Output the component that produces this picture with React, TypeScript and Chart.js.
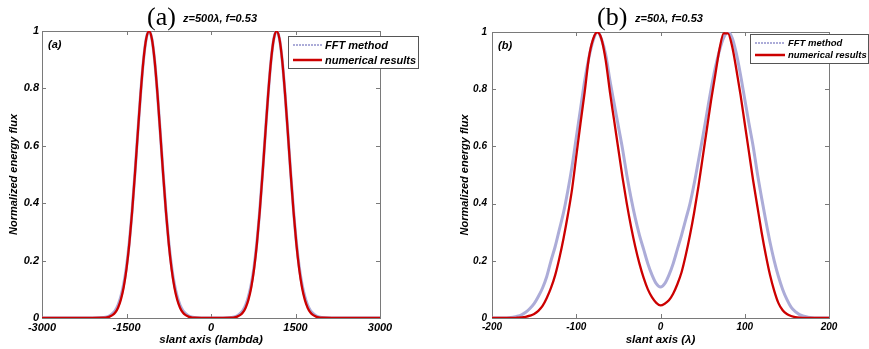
import React, { useEffect, useRef } from "react";
import { Chart, registerables } from "chart.js";

Chart.register(...registerables);

// ---------- Panel (a): z = 500 lambda ----------
const panelAX = [
  -3000, -2400,
  -1900, -1850, -1800, -1750, -1700, -1650, -1600, -1550, -1500, -1450, -1400,
  -1350, -1300, -1250, -1200, -1150, -1100, -1050, -1000, -950, -900, -850,
  -800, -750, -700, -650, -600, -550, -500, -450, -400, -350, -300,
  0,
  365, 415, 465, 515, 565, 615, 665, 715, 765, 815, 865, 915, 965, 1015, 1065,
  1115, 1165, 1215, 1265, 1315, 1365, 1415, 1465, 1515, 1565, 1615, 1665, 1715,
  1765, 1815, 1865, 1915, 1965,
  2400, 3000,
];
const panelAFFT = [
  0, 0,
  0.002, 0.004, 0.008, 0.015, 0.026, 0.045, 0.075, 0.118, 0.18, 0.265, 0.375,
  0.505, 0.645, 0.78, 0.896, 0.973, 1, 0.973, 0.896, 0.78, 0.645, 0.505,
  0.375, 0.265, 0.18, 0.118, 0.075, 0.045, 0.026, 0.015, 0.008, 0.004, 0.002,
  0,
  0.002, 0.004, 0.008, 0.015, 0.026, 0.045, 0.075, 0.118, 0.18, 0.265, 0.375,
  0.505, 0.645, 0.78, 0.896, 0.973, 1, 0.973, 0.896, 0.78, 0.645, 0.505,
  0.375, 0.265, 0.18, 0.118, 0.075, 0.045, 0.026, 0.015, 0.008, 0.004, 0.002,
  0, 0,
];
const panelANumerical = [
  0, 0,
  0.001, 0.002, 0.005, 0.01, 0.019, 0.036, 0.064, 0.107, 0.171, 0.259, 0.371,
  0.502, 0.643, 0.78, 0.896, 0.973, 1, 0.973, 0.896, 0.78, 0.643, 0.502,
  0.371, 0.259, 0.171, 0.107, 0.064, 0.036, 0.019, 0.01, 0.005, 0.002, 0.001,
  0,
  0.001, 0.002, 0.005, 0.01, 0.019, 0.036, 0.064, 0.107, 0.171, 0.259, 0.371,
  0.502, 0.643, 0.78, 0.896, 0.973, 1, 0.973, 0.896, 0.78, 0.643, 0.502,
  0.371, 0.259, 0.171, 0.107, 0.064, 0.036, 0.019, 0.01, 0.005, 0.002, 0.001,
  0, 0,
];
const panelATicks = [-3000, -1500, 0, 1500, 3000];

// ---------- Panel (b): z = 50 lambda ----------
const panelBX = [
  -200, -195, -190, -185, -180, -175, -170, -165, -160, -155, -150, -145, -140,
  -135, -130, -125, -120, -115, -110, -105, -100, -95, -90, -85, -80, -75, -70,
  -65, -60, -55, -50, -45, -40, -35, -30, -25, -20, -15, -10, -5, 0, 5, 10, 15,
  20, 25, 30, 35, 40, 45, 50, 55, 60, 65, 70, 75, 80, 85, 90, 95, 100, 105, 110,
  115, 120, 125, 130, 135, 140, 145, 150, 155, 160, 165, 170, 175, 180, 185,
  190, 195, 200,
];
const panelBFFT = [
  0, 0, 0, 0, 0.001, 0.003, 0.006, 0.011, 0.02, 0.033, 0.05, 0.075, 0.105,
  0.145, 0.2, 0.25, 0.31, 0.37, 0.445, 0.53, 0.63, 0.73, 0.83, 0.91, 0.97, 1, 0.975,
  0.92, 0.83, 0.75, 0.67, 0.59, 0.5, 0.42, 0.35, 0.29, 0.24, 0.19, 0.15, 0.12, 0.108, 0.12, 0.15, 0.19,
  0.24, 0.29, 0.345, 0.4, 0.47, 0.55, 0.63, 0.715, 0.8, 0.875, 0.935, 0.98, 1, 0.98, 0.925, 0.85, 0.765, 0.68, 0.6,
  0.505, 0.42, 0.34, 0.265, 0.2, 0.145, 0.1, 0.065, 0.038, 0.022, 0.012, 0.006, 0.003, 0.001, 0,
  0, 0, 0,
];
const panelBNumerical = [
  0, 0, 0, 0, 0, 0, 0.001, 0.002, 0.004, 0.008, 0.014, 0.025, 0.042,
  0.07, 0.105, 0.15, 0.21, 0.28, 0.36, 0.45, 0.565, 0.68, 0.79, 0.91, 0.975, 1, 0.975,
  0.9, 0.79, 0.69, 0.59, 0.49, 0.4, 0.32, 0.25, 0.19, 0.14, 0.1, 0.072, 0.053, 0.044, 0.05, 0.062, 0.085,
  0.118, 0.16, 0.22, 0.29, 0.37, 0.46, 0.56, 0.66, 0.76, 0.85, 0.94, 0.995, 0.995, 0.95, 0.87, 0.78, 0.68, 0.58, 0.48,
  0.39, 0.3, 0.22, 0.15, 0.095, 0.052, 0.027, 0.014, 0.007, 0.003, 0.001, 0, 0, 0, 0,
  0, 0, 0,
];
const panelBTicks = [-200, -100, 0, 100, 200];

const yTicks = [0, 0.2, 0.4, 0.6, 0.8, 1];
const seriesLabels = ["FFT method", "numerical results"];

const SANS = "'Liberation Sans', Arial, sans-serif";
const SERIF = "'Liberation Serif', 'Times New Roman', serif";
const FFT_COLOR = "rgba(172,172,216,1)";
const NUM_COLOR = "#cc0000";
const BOX_COLOR = "#7a7a7a";

type PanelProps = {
  left: number;
  width: number;
  xs: number[];
  fft: number[];
  num: number[];
  xTicks: number[];
  xTitle: string;
  area: { left: number; top: number; right: number; bottom: number };
  tickSize: number;
  yTickPad: number;
  yTitleX: number;
  letter: string;
  heading: string;
  headingX: number;
  subtitle: string;
  subtitleX: number;
  legend: { x: number; y: number; w: number; h: number; font: number; row1: number; row2: number; lineX: number; lineW: number; textX: number };
};

function Panel(p: PanelProps) {
  const ref = useRef<HTMLCanvasElement | null>(null);
  useEffect(() => {
    if (!ref.current) return;
    const height = 349;
    const xMin = p.xTicks[0];
    const xMax = p.xTicks[p.xTicks.length - 1];
    const xStep = p.xTicks[1] - p.xTicks[0];
    const deco = {
      id: "deco" + p.letter,
      beforeDatasetsDraw(chart: any) {
        const { ctx, chartArea: a, scales } = chart;
        ctx.save();
        ctx.strokeStyle = BOX_COLOR;
        ctx.lineWidth = 1;
        ctx.strokeRect(Math.round(a.left) + 0.5, Math.round(a.top) + 0.5, Math.round(a.right - a.left), Math.round(a.bottom - a.top));
        ctx.beginPath();
        const L = 4;
        p.xTicks.slice(1, -1).forEach((v) => {
          const px = Math.round(scales.x.getPixelForValue(v)) + 0.5;
          ctx.moveTo(px, a.bottom);
          ctx.lineTo(px, a.bottom - L);
          ctx.moveTo(px, a.top);
          ctx.lineTo(px, a.top + L);
        });
        yTicks.slice(1, -1).forEach((v) => {
          const py = Math.round(scales.y.getPixelForValue(v)) + 0.5;
          ctx.moveTo(a.left, py);
          ctx.lineTo(a.left + L, py);
          ctx.moveTo(a.right, py);
          ctx.lineTo(a.right - L, py);
        });
        ctx.stroke();
        ctx.restore();
      },
      afterDraw(chart: any) {
        const { ctx, chartArea: a } = chart;
        ctx.save();
        ctx.fillStyle = "#000";
        ctx.font = `italic bold 11px ${SANS}`;
        ctx.textAlign = "left";
        ctx.textBaseline = "alphabetic";
        ctx.fillText(p.letter, a.left + 6, a.top + 17);
        ctx.font = `26px ${SERIF}`;
        ctx.fillText(p.heading, p.headingX, 25);
        ctx.font = `italic bold 11px ${SANS}`;
        ctx.fillText(p.subtitle, p.subtitleX, 22);
        const lg = p.legend;
        ctx.fillStyle = "#fff";
        ctx.fillRect(lg.x, lg.y, lg.w, lg.h);
        ctx.strokeStyle = "#555";
        ctx.lineWidth = 1;
        ctx.strokeRect(lg.x + 0.5, lg.y + 0.5, lg.w, lg.h);
        ctx.beginPath();
        ctx.strokeStyle = FFT_COLOR;
        ctx.lineWidth = 2;
        ctx.setLineDash([2, 1]);
        ctx.moveTo(lg.lineX, lg.row1);
        ctx.lineTo(lg.lineX + lg.lineW, lg.row1);
        ctx.stroke();
        ctx.setLineDash([]);
        ctx.beginPath();
        ctx.strokeStyle = NUM_COLOR;
        ctx.lineWidth = 2.5;
        ctx.moveTo(lg.lineX, lg.row2);
        ctx.lineTo(lg.lineX + lg.lineW, lg.row2);
        ctx.stroke();
        ctx.fillStyle = "#000";
        ctx.font = `italic bold ${lg.font}px ${SANS}`;
        ctx.textBaseline = "middle";
        ctx.fillText(seriesLabels[0], lg.textX, lg.row1 + 0.5);
        ctx.fillText(seriesLabels[1], lg.textX, lg.row2 + 0.5);
        ctx.restore();
      },
    };
    const chart = new Chart(ref.current, {
      type: "line",
      data: {
        datasets: [
          {
            label: seriesLabels[1],
            data: p.xs.map((x, i) => ({ x, y: p.num[i] })),
            borderColor: NUM_COLOR,
            borderWidth: 2.3,
            pointRadius: 0,
            cubicInterpolationMode: "monotone",
            fill: false,
          },
          {
            label: seriesLabels[0],
            data: p.xs.map((x, i) => ({ x, y: p.fft[i] })),
            borderColor: FFT_COLOR,
            borderWidth: 3,
            pointRadius: 0,
            cubicInterpolationMode: "monotone",
            fill: false,
          },
        ],
      },
      options: {
        responsive: false,
        animation: false,
        devicePixelRatio: 1,
        layout: {
          padding: { left: 0, top: p.area.top, right: p.width - p.area.right, bottom: 0 },
        },
        plugins: { legend: { display: false }, tooltip: { enabled: false }, title: { display: false } },
        scales: {
          x: {
            type: "linear",
            min: xMin,
            max: xMax,
            afterFit: (s: any) => {
              s.height = height - p.area.bottom;
            },
            afterBuildTicks: (s: any) => {
              s.ticks = p.xTicks.map((v) => ({ value: v }));
            },
            ticks: {
              stepSize: xStep,
              autoSkip: false,
              maxRotation: 0,
              padding: 3,
              color: "#000",
              callback: (v: any) => String(v),
              font: { family: SANS, size: p.tickSize, weight: "bold", style: "italic" },
            },
            grid: { display: false, drawTicks: false },
            border: { display: false },
            title: {
              display: true,
              text: p.xTitle,
              color: "#000",
              font: { family: SANS, size: 11.5, weight: "bold", style: "italic" },
              padding: { top: 0, bottom: 2 },
            },
          },
          y: {
            type: "linear",
            min: 0,
            max: 1,
            afterFit: (s: any) => {
              s.width = p.area.left;
            },
            afterBuildTicks: (s: any) => {
              s.ticks = yTicks.map((v) => ({ value: v }));
            },
            ticks: {
              stepSize: 0.2,
              padding: p.yTickPad,
              color: "#000",
              callback: (v: any) => String(v),
              font: { family: SANS, size: p.tickSize, weight: "bold", style: "italic" },
            },
            grid: { display: false, drawTicks: false },
            border: { display: false },
            title: {
              display: true,
              text: "Normalized energy flux",
              color: "#000",
              font: { family: SANS, size: 11, weight: "bold", style: "italic" },
              padding: { top: p.yTitleX - 6.6, bottom: 0 },
            },
          },
        },
      },
      plugins: [deco],
    } as any);
    return () => chart.destroy();
  }, []);
  return (
    <canvas
      ref={ref}
      width={p.width}
      height={349}
      style={{ position: "absolute", left: p.left, top: 0, width: p.width, height: 349 }}
    />
  );
}

export default function App() {
  return (
    <div style={{ position: "absolute", left: 0, top: 0, width: 869, height: 349, background: "#fff", overflow: "hidden" }}>
      <Panel
        left={0}
        width={440}
        xs={panelAX}
        fft={panelAFFT}
        num={panelANumerical}
        xTicks={panelATicks}
        xTitle="slant axis (lambda)"
        area={{ left: 42, top: 31, right: 380, bottom: 318 }}
        tickSize={11}
        yTickPad={3}
        yTitleX={14}
        letter="(a)"
        heading="(a)"
        headingX={147}
        subtitle="z=500λ, f=0.53"
        subtitleX={183}
        legend={{ x: 288, y: 36, w: 130, h: 32, font: 11, row1: 45, row2: 60, lineX: 293, lineW: 29, textX: 325 }}
      />
      <Panel
        left={440}
        width={429}
        xs={panelBX}
        fft={panelBFFT}
        num={panelBNumerical}
        xTicks={panelBTicks}
        xTitle="slant axis (λ)"
        area={{ left: 52, top: 32, right: 389, bottom: 318 }}
        tickSize={10}
        yTickPad={5}
        yTitleX={25}
        letter="(b)"
        heading="(b)"
        headingX={157}
        subtitle="z=50λ, f=0.53"
        subtitleX={195}
        legend={{ x: 310, y: 34, w: 118, h: 29, font: 9.5, row1: 43, row2: 55, lineX: 315, lineW: 30, textX: 348 }}
      />
    </div>
  );
}
